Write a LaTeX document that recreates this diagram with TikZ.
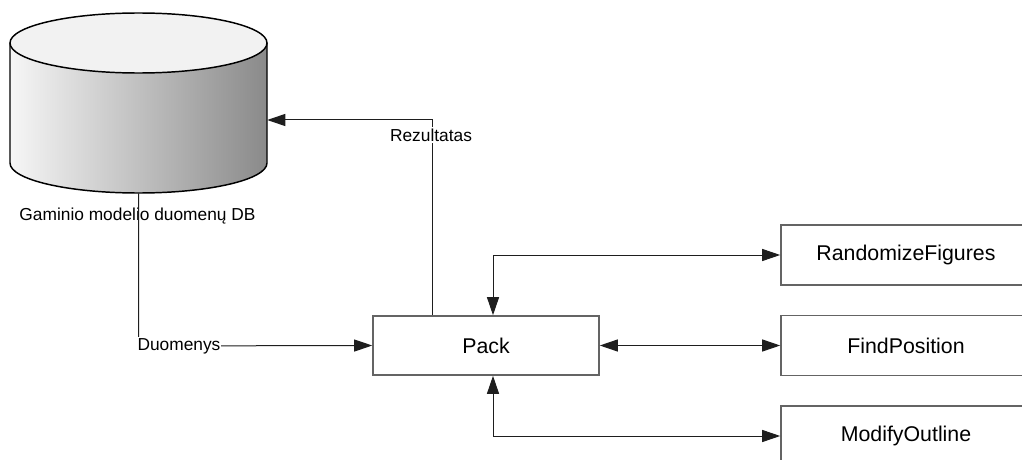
\documentclass[tikz,border=0pt]{standalone}
\usepackage{fontspec}
\setmainfont{Liberation Sans}
\usetikzlibrary{arrows.meta}
\definecolor{boxline}{RGB}{100,100,100}
\definecolor{conncol}{RGB}{30,30,30}
\definecolor{cyltop}{RGB}{242,242,242}
\definecolor{cylleft}{RGB}{246,246,246}
\definecolor{cylright}{RGB}{138,138,138}
\tikzset{
  procbox/.style={draw=boxline, line width=1.2pt, fill=white,
    minimum width=187.5pt, minimum height=45pt, inner sep=0pt,
    font=\fontsize{16}{19}\selectfont},
  conn/.style={draw=conncol, line width=0.75pt},
  tip/.style={-{Triangle[length=13.5pt,width=9pt]}},
  dbltip/.style={{Triangle[length=13.5pt,width=9pt]}-{Triangle[length=13.5pt,width=9pt]}},
  lbl/.style={font=\fontsize{13}{15}\selectfont, inner sep=1pt}
}
\begin{document}
\begin{tikzpicture}[x=0.75pt,y=-0.75pt]
\useasboundingbox (0,0) rectangle (1022,460);
\clip (0,0) rectangle (1022,460);
\fill[white] (0,0) rectangle (1022,460);

% database cylinder
\shade[left color=cylleft, right color=cylright]
  (10,43) -- (10,163)
  arc[start angle=180, end angle=360, x radius=96.375pt, y radius=22.5pt]
  -- (267,43)
  arc[start angle=0, end angle=-180, x radius=96.375pt, y radius=22.5pt]
  -- cycle;
\fill[cyltop] (138.5,43) ellipse[x radius=96.375pt, y radius=22.5pt];
\draw[line width=1.1pt, black]
  (10,43) -- (10,163)
  arc[start angle=180, end angle=360, x radius=96.375pt, y radius=22.5pt]
  -- (267,43);
\draw[line width=1.1pt, black] (138.5,43) ellipse[x radius=96.375pt, y radius=22.5pt];
\node[minimum width=192.75pt, minimum height=135pt, inner sep=0pt] (db) at (138.5,103) {};
\node[lbl, anchor=base] (dblabel) at (137.5,220) {Gaminio modelio duomenų DB};

% process boxes
\node[procbox, minimum width=169.5pt, minimum height=44.25pt] (pack) at (486,345.5) {Pack};
\node[procbox] (rand) at (906,255) {RandomizeFigures};
\node[procbox] (find) at (906,345.5) {FindPosition};
\node[procbox] (modo) at (906,436) {ModifyOutline};

% data in
\coordinate (din) at (138.5,346);
\draw[conn, tip] (db.south) -- (din) -- (pack.west);
\node[lbl, anchor=west, fill=white, inner xsep=0.6pt] (duom) at (136.5,346) {Duomenys};

% result out
\coordinate (rout) at (432,120);
\draw[conn, tip] (pack.north -| rout) -- (rout) -- (db.east |- rout);
\node[lbl, fill=white] (rez) at (431,135) {Rezultatas};

% calls between Pack and helpers
\coordinate (up) at (493,255);
\coordinate (dn) at (493,436);
\draw[conn, dbltip] (pack.north -| up) -- (up) -- (rand.west);
\draw[conn, dbltip] (pack.east) -- (find.west);
\draw[conn, dbltip] (pack.south -| dn) -- (dn) -- (modo.west);
\end{tikzpicture}
\end{document}
